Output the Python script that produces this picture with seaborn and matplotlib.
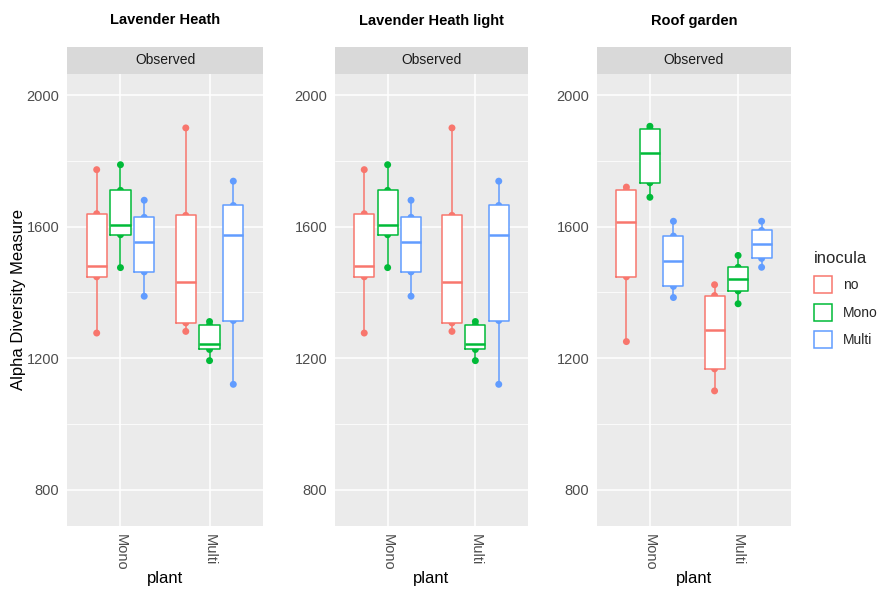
import matplotlib.pyplot as plt
import seaborn as sns
import pandas as pd

sites = ['Lavender Heath', 'Lavender Heath light', 'Roof garden']
plants = ['Mono', 'Multi']
inocula = ['no', 'Mono', 'Multi']
colors = ['#F8766D', '#00BA38', '#619CFF']

# Observed alpha diversity, five samples per plant / inocula group
heath_mono_no = [1276, 1447, 1481, 1639, 1773]
heath_mono_mono = [1475, 1575, 1606, 1710, 1788]
heath_mono_multi = [1388, 1462, 1553, 1628, 1680]
heath_multi_no = [1281, 1307, 1431, 1634, 1900]
heath_multi_mono = [1192, 1226, 1243, 1300, 1311]
heath_multi_multi = [1120, 1314, 1573, 1664, 1738]

light_mono_no = [1276, 1447, 1481, 1639, 1773]
light_mono_mono = [1475, 1575, 1606, 1710, 1788]
light_mono_multi = [1388, 1462, 1553, 1628, 1680]
light_multi_no = [1281, 1307, 1431, 1634, 1900]
light_multi_mono = [1192, 1226, 1243, 1300, 1311]
light_multi_multi = [1120, 1314, 1573, 1664, 1738]

roof_mono_no = [1250, 1447, 1613, 1710, 1720]
roof_mono_mono = [1689, 1733, 1823, 1897, 1905]
roof_mono_multi = [1384, 1418, 1495, 1571, 1616]
roof_multi_no = [1100, 1167, 1286, 1390, 1423]
roof_multi_mono = [1365, 1404, 1441, 1476, 1512]
roof_multi_multi = [1476, 1503, 1548, 1588, 1616]

site_groups = {
    'Lavender Heath': [heath_mono_no, heath_mono_mono, heath_mono_multi,
                       heath_multi_no, heath_multi_mono, heath_multi_multi],
    'Lavender Heath light': [light_mono_no, light_mono_mono, light_mono_multi,
                             light_multi_no, light_multi_mono, light_multi_multi],
    'Roof garden': [roof_mono_no, roof_mono_mono, roof_mono_multi,
                    roof_multi_no, roof_multi_mono, roof_multi_multi],
}

rows = []
for site, groups in site_groups.items():
    k = 0
    for plant in plants:
        for ino in inocula:
            for v in groups[k]:
                rows.append({'site': site, 'plant': plant, 'inocula': ino, 'value': v})
            k += 1
df = pd.DataFrame(rows)

sns.set_style('darkgrid', {'axes.facecolor': '#EBEBEB', 'grid.color': 'white'})
plt.rcParams['font.family'] = ['Liberation Sans', 'DejaVu Sans']

pal = dict(zip(inocula, colors))
white = {k: 'white' for k in inocula}

W, H = 888, 589
panel_px = [(67, 263), (335, 528), (597, 791)]
top, bottom, strip_top = 74, 526, 47

fig = plt.figure(figsize=(W / 100, H / 100), dpi=100)

for i, site in enumerate(sites):
    x0, x1 = panel_px[i]
    ax = fig.add_axes([x0 / W, 1 - bottom / H, (x1 - x0) / W, (bottom - top) / H])
    sub = df[df['site'] == site]
    common = dict(data=sub, x='plant', y='value', hue='inocula',
                  order=plants, hue_order=inocula, ax=ax)

    # points sit underneath the white boxes, like the original figure
    sns.stripplot(**common, palette=pal, dodge=True, jitter=False, size=5,
                  linewidth=0, legend=False, zorder=2)
    sns.boxplot(**common, palette=white, saturation=1, fill=True, width=0.8,
                gap=0.15, whis=(0, 100), linewidth=0, showcaps=False,
                legend=False, zorder=3)
    sns.boxplot(**common, palette=pal, saturation=1, fill=False, width=0.8,
                gap=0.15, whis=(0, 100), linewidth=1.1, showcaps=False,
                medianprops={'linewidth': 1.8}, legend=(i == 2), zorder=4)

    ax.set_xlim(-0.6, 1.6)
    ax.set_ylim(689, 2064)
    ax.set_yticks([800, 1200, 1600, 2000])
    ax.set_yticks([1000, 1400, 1800], minor=True)
    ax.grid(True, which='major', color='white', linewidth=1.1)
    ax.grid(True, which='minor', axis='y', color='white', linewidth=0.55)
    ax.tick_params(which='major', length=3.5, width=0.8, color='#333333',
                   labelcolor='#4D4D4D', labelsize=10.5, pad=2)
    ax.tick_params(which='minor', length=0)
    ax.tick_params(axis='x', labelrotation=270)
    for s in ax.spines.values():
        s.set_visible(False)

    ax.set_xlabel('plant', fontsize=12, color='black')
    ax.xaxis.set_label_coords(0.5, -0.10)
    if i == 0:
        ax.set_ylabel('Alpha Diversity Measure', fontsize=12, color='black')
        ax.yaxis.set_label_coords(-0.21, 0.5)
    else:
        ax.set_ylabel('')

    # facet strip
    sax = fig.add_axes([x0 / W, 1 - top / H, (x1 - x0) / W, (top - strip_top) / H])
    sax.set_facecolor('#D9D9D9')
    sax.set_xticks([])
    sax.set_yticks([])
    for s in sax.spines.values():
        s.set_visible(False)
    sax.text(0.5, 0.5, 'Observed', ha='center', va='center', fontsize=10,
             color='#1A1A1A', transform=sax.transAxes)

    fig.text((x0 + x1) / 2 / W, 1 - 20.5 / H, site, ha='center', va='center',
             fontsize=10.5, fontweight='bold', color='black')

    if i == 2:
        leg = ax.get_legend()
        handles = leg.legend_handles
        labels = [t.get_text() for t in leg.get_texts()]
        leg.remove()
        fig.legend(handles, labels, title='inocula', loc='upper left',
                   bbox_to_anchor=(814 / W, 1 - 251 / H), frameon=False,
                   fontsize=10, title_fontsize=12, handlelength=1.3,
                   handleheight=1.5, handletextpad=0.8, labelspacing=0.75,
                   borderpad=0, borderaxespad=0, alignment='left')

fig.savefig('out.png', dpi=100)
